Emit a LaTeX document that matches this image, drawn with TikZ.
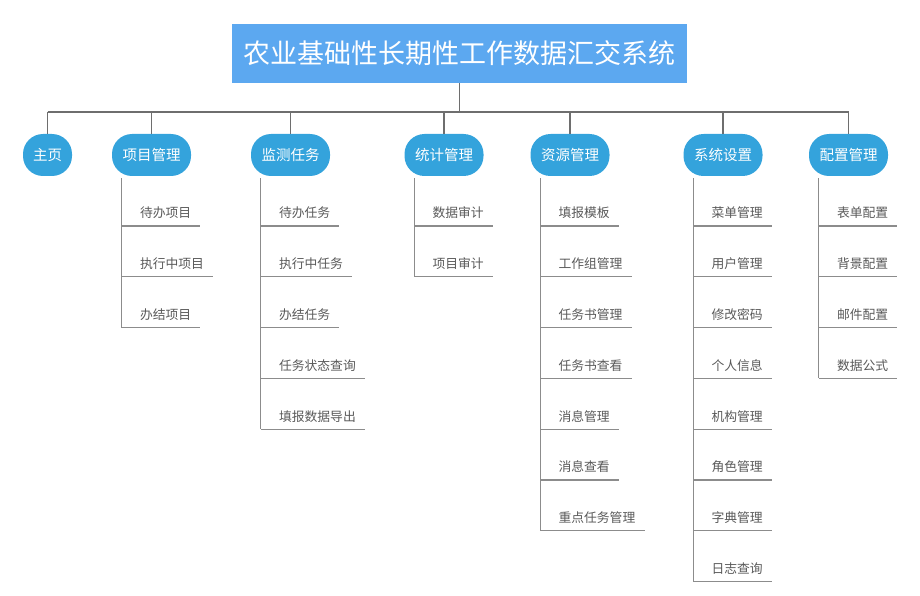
\documentclass[tikz,border=0pt]{standalone}
\usepackage{fontspec}
\usepackage{tikz}
\usepackage{xcolor}
\usetikzlibrary{positioning}
\newfontfamily\cjk{Noto Sans CJK SC}
\definecolor{Title Blue}{HTML}{5CA8F0}
\definecolor{Menu Blue}{HTML}{34A3DC}
\definecolor{Bus Gray}{HTML}{6E6E6E}
\definecolor{Leaf Gray}{HTML}{8C8C8C}
\definecolor{Text Gray}{HTML}{595959}

\tikzset{
  titlebox/.style={fill=Title Blue, text=white, minimum width=455pt, minimum height=59pt,
    inner sep=0pt, font=\cjk\fontsize{27}{32}\selectfont},
  menu/.style={fill=Menu Blue, text=white, rounded corners=20pt, minimum width=79pt,
    minimum height=42pt, inner sep=0pt, font=\cjk\fontsize{14.5}{17}\selectfont},
  item/.style={text=Text Gray, inner sep=0pt, font=\cjk\fontsize{12.8}{15}\selectfont},
  bus/.style={draw=Bus Gray, line width=1.8pt},
  leaf/.style={draw=Leaf Gray, line width=1.2pt}
}

\begin{document}
\begin{tikzpicture}[x=1pt, y=-1pt]
    \useasboundingbox (0,0) rectangle (920,596);
    % Title
    \node[titlebox] (title) at (459.5,53.5) {农业基础性长期性工作数据汇交系统};
    \coordinate (busy) at (0,112);
    % Menu row
    \node[menu, minimum width=49pt] (home) at (47.5,155) {主页};
    \foreach \name/\cx/\label in {
        proj/151.5/项目管理,
        mon/290.5/监测任务,
        stat/444/统计管理,
        res/570/资源管理,
        sys/723/系统设置,
        conf/848.5/配置管理
    } {
        \node[menu] (\name) at (\cx,155) {\label};
    }
    % Bus lines
    \draw[bus] (title.south) -- (title.south |- busy);
    \draw[bus] (home.north |- busy) -- (conf.north |- busy);
    \foreach \name in {home,proj,mon,stat,res,sys,conf} {
        \draw[bus] (\name.north |- busy) -- (\name.north);
    }
    % Sub items
    \foreach \g/\n/\lst in {
        proj/3/{待办项目,执行中项目,办结项目},
        mon/5/{待办任务,执行中任务,办结任务,任务状态查询,填报数据导出},
        stat/2/{数据审计,项目审计},
        res/7/{填报模板,工作组管理,任务书管理,任务书查看,消息管理,消息查看,重点任务管理},
        sys/8/{菜单管理,用户管理,修改密码,个人信息,机构管理,角色管理,字典管理,日志查询},
        conf/4/{表单配置,背景配置,邮件配置,数据公式}} {
        \foreach \t [count=\j] in \lst {
            \pgfmathsetmacro\y{226+(\j-1)*50.8}
            \coordinate (\g-t\j) at ([xshift=10pt]\g.west |- 0,\y);
            \node[item, anchor=west] (\g-\j) at ([xshift=18pt,yshift=13pt]\g-t\j) {\t};
            \draw[leaf] (\g-t\j) -- ([xshift=9pt]\g-\j.east |- \g-t\j);
        }
        \draw[leaf, shorten <=2pt] (\g-t1 |- \g.south) -- (\g-t\n);
    }
\end{tikzpicture}
\end{document}
